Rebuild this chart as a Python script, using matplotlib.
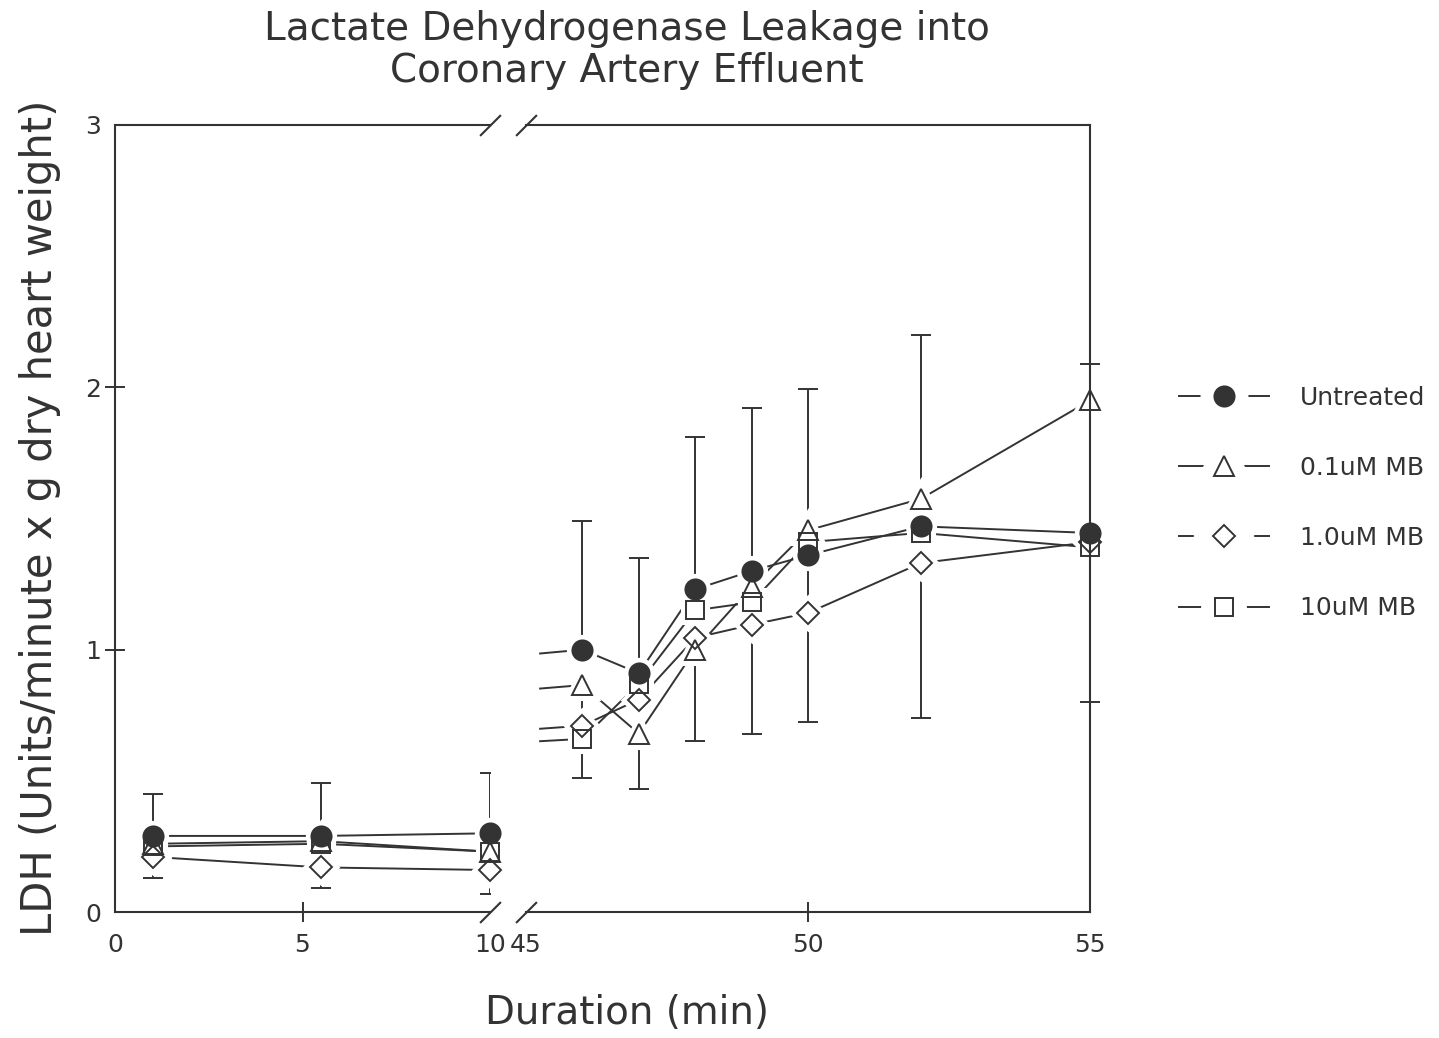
import matplotlib
matplotlib.use("Agg")
import matplotlib.pyplot as plt
from matplotlib.lines import Line2D
from matplotlib.legend_handler import HandlerTuple

# data (LDH, units/min x g dry heart weight)
x_left = [1, 5.5, 10]
x_right = [46, 47, 48, 49, 50, 52, 55]

labels = ["Untreated", "0.1uM MB", "1.0uM MB", "10uM MB"]

untreated_left = [0.29, 0.29, 0.30]
mb01_left = [0.26, 0.27, 0.23]
mb1_left = [0.21, 0.17, 0.16]
mb10_left = [0.25, 0.26, 0.23]

untreated_right = [1.00, 0.91, 1.23, 1.30, 1.36, 1.47, 1.445]
mb01_right = [0.865, 0.68, 1.00, 1.24, 1.455, 1.575, 1.95]
mb1_right = [0.71, 0.81, 1.045, 1.095, 1.14, 1.33, 1.41]
mb10_right = [0.66, 0.87, 1.15, 1.18, 1.41, 1.445, 1.39]

untreated_err_left = [0.16, 0.20, 0.23]
untreated_err_right = [0.49, 0.44, 0.58, 0.62, 0.635, 0.73, 0.645]

left_vals = [untreated_left, mb01_left, mb1_left, mb10_left]
right_vals = [untreated_right, mb01_right, mb1_right, mb10_right]

# styles
ink = "#333333"
markers = ["o", "^", "D", "s"]
msizes = [14.5, 14.5, 11, 13.5]
faces = [ink, "none", "none", "none"]
lw = 1.4
halo_w = 8
bridge_start = 45.25

plt.rcParams["font.family"] = "DejaVu Sans"
plt.rcParams["text.color"] = ink
plt.rcParams["axes.edgecolor"] = ink
plt.rcParams["xtick.color"] = ink
plt.rcParams["ytick.color"] = ink

fig = plt.figure(figsize=(14.39, 10.38), dpi=100)
W, H = 1439.0, 1038.0
ax1 = fig.add_axes([115 / W, 1 - 912 / H, (490 - 115) / W, (912 - 125) / H])
ax2 = fig.add_axes([526 / W, 1 - 912 / H, (1090 - 526) / W, (912 - 125) / H])

ax1.set_xlim(0, 10)
ax2.set_xlim(45, 55)
for ax in (ax1, ax2):
    ax.set_ylim(0, 3)
    for s in ax.spines.values():
        s.set_linewidth(1.5)
ax1.spines["right"].set_visible(False)
ax2.spines["left"].set_visible(False)

# lines
for i in range(4):
    ax1.plot(x_left, left_vals[i], color=ink, lw=lw, zorder=1)
    ax2.plot(x_right, right_vals[i], color=ink, lw=lw, zorder=1)
    # piece of the line crossing the axis break
    y0, y1 = left_vals[i][-1], right_vals[i][0]
    yb = y0 + (y1 - y0) * (bridge_start - x_left[-1]) / (x_right[0] - x_left[-1])
    ax2.plot([bridge_start, x_right[0]], [yb, y1], color=ink, lw=lw, zorder=1)

# error bars (only untreated shown)
ax1.errorbar(x_left, untreated_left, yerr=untreated_err_left, fmt="none",
             ecolor=ink, elinewidth=lw, capsize=7, capthick=lw, zorder=1)
ax2.errorbar(x_right, untreated_right, yerr=untreated_err_right, fmt="none",
             ecolor=ink, elinewidth=lw, capsize=7, capthick=lw, zorder=1, clip_on=False)

# white halos under markers -> gaps in lines like the original
for i in range(4):
    for ax, xs, ys in ((ax1, x_left, left_vals[i]), (ax2, x_right, right_vals[i])):
        ax.plot(xs, ys, linestyle="none", marker=markers[i], ms=msizes[i],
                mfc="white", mec="white", mew=halo_w, zorder=2, clip_on=False)
for i in range(4):
    for ax, xs, ys in ((ax1, x_left, left_vals[i]), (ax2, x_right, right_vals[i])):
        ax.plot(xs, ys, linestyle="none", marker=markers[i], ms=msizes[i],
                mfc=faces[i], mec=ink, mew=lw, zorder=3, clip_on=False)

# ticks
ax1.set_xticks([0, 5, 10])
ax2.set_xticks([45, 50, 55])
ax1.set_yticks([0, 1, 2, 3])
ax2.set_yticks([])
ax1.tick_params(axis="x", direction="inout", length=14, width=1.4, labelsize=18, pad=8)
ax2.tick_params(axis="x", direction="inout", length=14, width=1.4, labelsize=18, pad=8)
ax1.tick_params(axis="y", direction="inout", length=14, width=1.4, labelsize=18, pad=3)
for t in (ax1.xaxis.get_major_ticks()[0], ax1.xaxis.get_major_ticks()[2],
          ax2.xaxis.get_major_ticks()[0], ax2.xaxis.get_major_ticks()[2],
          ax1.yaxis.get_major_ticks()[0], ax1.yaxis.get_major_ticks()[3]):
    t.tick1line.set_visible(False)

# break marks
brk = dict(marker=[(-1, -1), (1, 1)], ms=15, mew=1.5, color=ink,
           linestyle="none", clip_on=False, zorder=4)
ax1.plot([1, 1], [0, 1], transform=ax1.transAxes, **brk)
ax2.plot([0, 0], [0, 1], transform=ax2.transAxes, **brk)

# text
fig.text(627 / W, 1 - 50 / H, "Lactate Dehydrogenase Leakage into\nCoronary Artery Effluent",
         ha="center", va="center", fontsize=28, linespacing=1.15)
fig.text(627 / W, 1 - 1013 / H, "Duration (min)", ha="center", va="center", fontsize=28)
fig.text(40 / W, 1 - 518 / H, "LDH (Units/minute x g dry heart weight)", ha="center",
         va="center", rotation=90, fontsize=30)

# legend: line - marker - line
handles = []
for i in range(4):
    ln = Line2D([], [], color=ink, lw=lw)
    halo = Line2D([], [], linestyle="none", marker=markers[i], ms=msizes[i],
                  mfc="white", mec="white", mew=20)
    mk = Line2D([], [], linestyle="none", marker=markers[i], ms=msizes[i],
                mfc=faces[i], mec=ink, mew=lw)
    handles.append((ln, halo, mk))
fig.legend(handles, labels, handler_map={tuple: HandlerTuple(ndivide=1)},
           loc="center left", bbox_to_anchor=(1179 / W, 1 - 503 / H), frameon=False,
           fontsize=18, handlelength=3.6, handletextpad=1.25, labelspacing=1.85,
           borderpad=0, borderaxespad=0)

fig.savefig("out.png", dpi=100)
